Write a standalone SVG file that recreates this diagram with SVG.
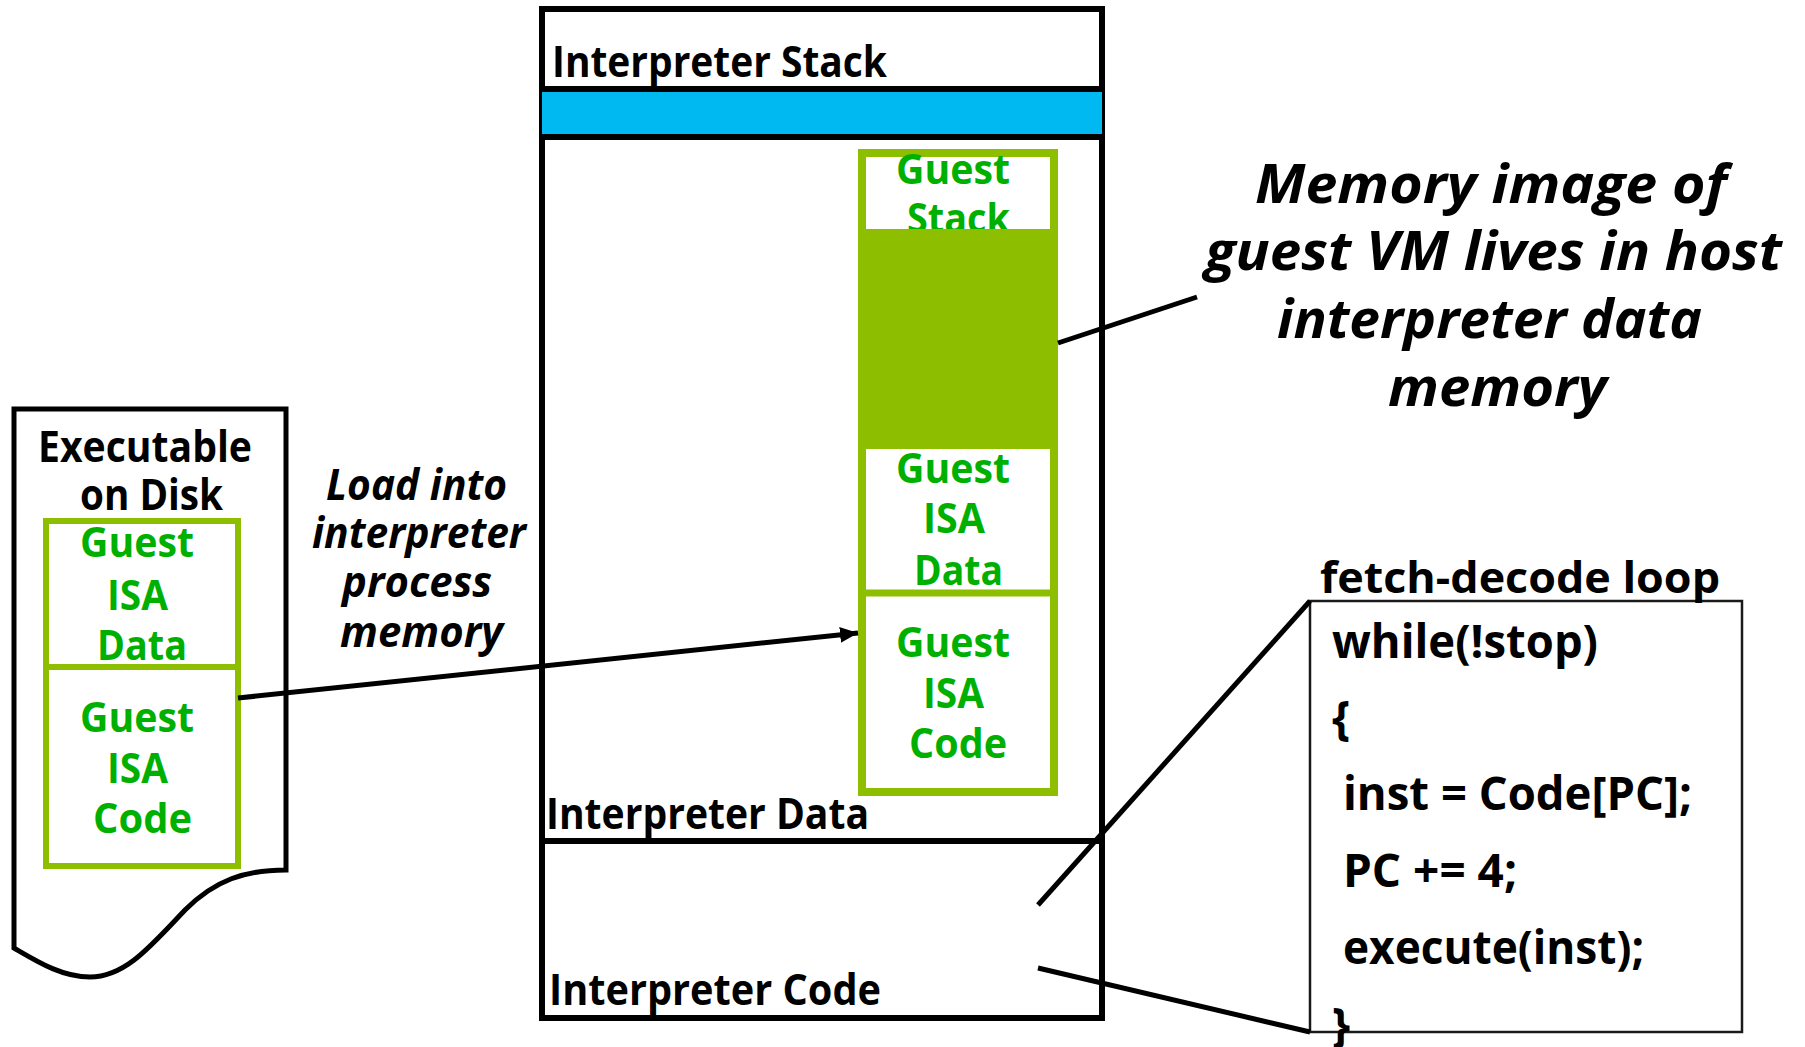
<svg xmlns="http://www.w3.org/2000/svg" width="1805" height="1047" viewBox="0 0 1805 1047">
  <style>
    text { font-family: "Open Sans", "Liberation Sans", sans-serif; font-weight: 700; }
    .lbl { font-size: 43px; fill: #000; }
    .grn { font-size: 42px; fill: #00B000; }
    .code { font-size: 46px; fill: #000; }
    .note { font-size: 53px; fill: #000; font-style: italic; }
    .load { font-size: 43px; fill: #000; font-style: italic; }
    .frame { fill: #fff; stroke: #000; stroke-width: 6; }
    .gbox { fill: #fff; stroke: #8EBE00; }
    .link { stroke: #000; stroke-width: 5; fill: none; }
  </style>
  <defs>
    <marker id="arrowhead" markerUnits="userSpaceOnUse" markerWidth="20" markerHeight="18" refX="18" refY="8" orient="auto">
      <path d="M0,0 L18,8 L0,16 Z" fill="#000"/>
    </marker>
  </defs>

  <rect width="1805" height="1047" fill="#fff"/>

  <!-- host interpreter process memory -->
  <g id="interpreter-memory">
    <rect class="frame" x="542" y="9" width="560" height="1009"/>
    <rect x="542" y="92" width="560" height="42" fill="#00B9F1"/>
    <line x1="542" y1="89" x2="1102" y2="89" stroke="#000" stroke-width="6"/>
    <line x1="542" y1="137" x2="1102" y2="137" stroke="#000" stroke-width="6"/>
    <line x1="542" y1="841" x2="1102" y2="841" stroke="#000" stroke-width="6"/>
    <text class="lbl" x="552" y="77" textLength="335" lengthAdjust="spacingAndGlyphs">Interpreter Stack</text>
    <text class="lbl" x="546" y="829" textLength="323" lengthAdjust="spacingAndGlyphs">Interpreter Data</text>
    <text class="lbl" x="549" y="1005" textLength="332" lengthAdjust="spacingAndGlyphs">Interpreter Code</text>
  </g>

  <!-- guest VM image inside interpreter data -->
  <g id="guest-image">
    <rect class="gbox" x="862" y="153" width="192" height="639" stroke-width="8"/>
    <text class="grn" x="896" y="184" textLength="114" lengthAdjust="spacingAndGlyphs">Guest</text>
    <text class="grn" x="907" y="233" textLength="103" lengthAdjust="spacingAndGlyphs">Stack</text>
    <rect x="858" y="229" width="200" height="220" fill="#8EBE00"/>
    <line x1="858" y1="593" x2="1058" y2="593" stroke="#8EBE00" stroke-width="7"/>
    <text class="grn" x="896" y="483" textLength="114" lengthAdjust="spacingAndGlyphs">Guest</text>
    <text class="grn" x="923" y="533" textLength="62" lengthAdjust="spacingAndGlyphs">ISA</text>
    <text class="grn" x="914" y="585" textLength="89" lengthAdjust="spacingAndGlyphs">Data</text>
    <text class="grn" x="896" y="657" textLength="114" lengthAdjust="spacingAndGlyphs">Guest</text>
    <text class="grn" x="923" y="708" textLength="61" lengthAdjust="spacingAndGlyphs">ISA</text>
    <text class="grn" x="909" y="758" textLength="98" lengthAdjust="spacingAndGlyphs">Code</text>
  </g>

  <!-- executable file on disk -->
  <g id="executable-on-disk">
    <path d="M14,948 L14,409 L286,409 L286,870 C245,870 215,880 185,910 C150,947 125,977 90,977 C62,977 38,962 14,948 Z" fill="#fff" stroke="#000" stroke-width="5"/>
    <text class="lbl" x="38" y="462" textLength="214" lengthAdjust="spacingAndGlyphs">Executable</text>
    <text class="lbl" x="80" y="510" textLength="143" lengthAdjust="spacingAndGlyphs">on Disk</text>
    <rect class="gbox" x="46" y="521" width="192" height="345" stroke-width="6"/>
    <line x1="46" y1="667" x2="238" y2="667" stroke="#8EBE00" stroke-width="6"/>
    <text class="grn" x="80" y="557" textLength="114" lengthAdjust="spacingAndGlyphs">Guest</text>
    <text class="grn" x="107" y="610" textLength="61" lengthAdjust="spacingAndGlyphs">ISA</text>
    <text class="grn" x="97" y="660" textLength="90" lengthAdjust="spacingAndGlyphs">Data</text>
    <text class="grn" x="80" y="732" textLength="114" lengthAdjust="spacingAndGlyphs">Guest</text>
    <text class="grn" x="107" y="783" textLength="61" lengthAdjust="spacingAndGlyphs">ISA</text>
    <text class="grn" x="93" y="833" textLength="99" lengthAdjust="spacingAndGlyphs">Code</text>
  </g>

  <!-- load caption -->
  <g id="load-label">
    <text class="load" x="326" y="500" textLength="181" lengthAdjust="spacingAndGlyphs">Load into</text>
    <text class="load" x="312" y="548" textLength="214" lengthAdjust="spacingAndGlyphs">interpreter</text>
    <text class="load" x="342" y="597" textLength="150" lengthAdjust="spacingAndGlyphs">process</text>
    <text class="load" x="340" y="647" textLength="163" lengthAdjust="spacingAndGlyphs">memory</text>
  </g>

  <!-- callout note -->
  <g id="memory-note">
    <text class="note" x="1255" y="203" textLength="472" lengthAdjust="spacingAndGlyphs">Memory image of</text>
    <text class="note" x="1205" y="270" textLength="577" lengthAdjust="spacingAndGlyphs">guest VM lives in host</text>
    <text class="note" x="1277" y="338" textLength="425" lengthAdjust="spacingAndGlyphs">interpreter data</text>
    <text class="note" x="1388" y="406" textLength="219" lengthAdjust="spacingAndGlyphs">memory</text>
  </g>

  <!-- interpreter main loop -->
  <g id="fetch-decode-loop">
    <rect x="1310" y="601" width="432" height="431" fill="#fff" stroke="#1a1a1a" stroke-width="2.5"/>
    <text class="lbl" x="1320" y="593" textLength="400" lengthAdjust="spacingAndGlyphs">fetch-decode loop</text>
    <text class="code" x="1332" y="658" textLength="266" lengthAdjust="spacingAndGlyphs">while(!stop)</text>
    <text class="code" x="1332" y="734">{</text>
    <text class="code" x="1343" y="810" textLength="349" lengthAdjust="spacingAndGlyphs">inst = Code[PC];</text>
    <text class="code" x="1343" y="887" textLength="174" lengthAdjust="spacingAndGlyphs">PC += 4;</text>
    <text class="code" x="1343" y="964" textLength="301" lengthAdjust="spacingAndGlyphs">execute(inst);</text>
    <text class="code" x="1332" y="1041">}</text>
  </g>

  <g id="connectors">
    <line class="link" x1="238" y1="698" x2="858" y2="633" stroke-width="4.5" marker-end="url(#arrowhead)"/>
    <line class="link" x1="1058" y1="343" x2="1197" y2="297"/>
    <line class="link" x1="1038" y1="905" x2="1310" y2="601"/>
    <line class="link" x1="1038" y1="968" x2="1310" y2="1032"/>
  </g>
</svg>
